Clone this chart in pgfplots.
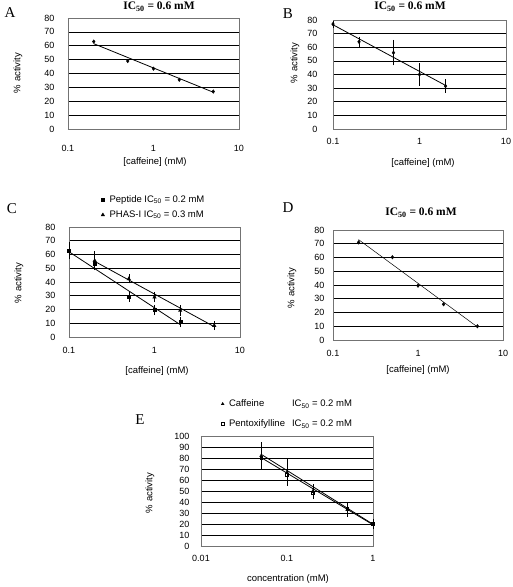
\documentclass[border=0pt]{standalone}
\usepackage{fontspec}
\setmainfont{Liberation Sans}
\newfontfamily\serif{Liberation Serif}
\usepackage{pgfplots}
\pgfplotsset{compat=1.18}
\pgfplotsset{
  /pgfplots/mypanel/.style={
    /pgfplots/scale only axis, /pgfplots/clip=false,
    /pgfplots/ymin=0, /pgfplots/ymax=80, /pgfplots/ytick={0,10,...,80},
    /pgfplots/ymajorgrids, /pgfplots/grid style={black, line width=0.6pt},
    /pgfplots/axis line style={black!55, line width=0.6pt},
    /pgfplots/major tick length=0pt, /pgfplots/minor tick length=0pt, /pgfplots/xminorticks=false,
    /pgf/number format/assume math mode=true,
    /pgfplots/tick label style={font=\fontsize{9}{10}\selectfont},
    /pgfplots/xmin=0.1, /pgfplots/xmax=10,
    /pgfplots/xtick={0.1,1,10}, /pgfplots/xticklabels={0.1,1,10},
  },
  /pgfplots/dot/.style={only marks, mark=diamond*, mark size=1.8pt, black,
    error bars/error bar style={black, line width=0.5pt},
    error bars/error mark options={black, mark size=2.5pt, line width=0.5pt}},
  /pgfplots/trend/.style={black, line width=0.8pt, no marks, forget plot},
  /pgfplots/limg/.style={legend image code/.code={\draw[mark repeat=2,mark phase=2,##1] plot coordinates {(0cm,0cm) (0.1cm,0cm) (0.2cm,0cm)};}},
}
\newcommand{\lab}{\fontsize{9.5}{11}\selectfont}
\newcommand{\ttl}{\serif\bfseries\fontsize{11.5}{13}\selectfont}
\begin{document}
\begin{tikzpicture}
\useasboundingbox (0pt,0pt) rectangle (513pt,-587pt);

% ---------------- A ----------------
\node[font=\serif\fontsize{15}{16}\selectfont] at (10pt,-13pt) {A};
\node[font=\ttl] at (159pt,-7pt) {IC\textsubscript{50} = 0.6 mM};
\node[font=\lab, rotate=90] at (18pt,-73pt) {\% activity};
\node[font=\lab] at (155pt,-162pt) {[caffeine] (mM)};
\begin{axis}[xmode=log, mypanel, at={(68pt,-129pt)}, anchor=south west, width=171pt, height=111pt,
  xticklabel style={yshift=-12.5pt}, yticklabel style={xshift=-10pt}]
  \addplot[dot] coordinates {(0.2,63) (0.5,49) (1,43.5) (2,35.5) (5,27)};
  \addplot[trend] coordinates {(0.2,61.5) (5,26.5)};
\end{axis}

% ---------------- B ----------------
\node[font=\serif\fontsize{15}{16}\selectfont] at (288pt,-14pt) {B};
\node[font=\ttl] at (410pt,-7pt) {IC\textsubscript{50} = 0.6 mM};
\node[font=\lab, rotate=90] at (295pt,-63pt) {\% activity};
\node[font=\lab] at (423pt,-163pt) {[caffeine] (mM)};
\begin{axis}[xmode=log, mypanel, at={(333pt,-129pt)}, anchor=south west, width=173pt, height=109pt,
  xticklabel style={yshift=-5.5pt}, yticklabel style={xshift=-12pt}]
  \addplot[dot, error bars/.cd, y dir=both, y explicit] coordinates {
    (0.1,77) +- (0,0.8) (0.2,64) +- (0,2) (0.5,56) +- (0,7.5) (1,40) +- (0,6.5) (2,31.5) +- (0,3)};
  \addplot[trend] coordinates {(0.1,76.5) (2,32)};
\end{axis}

% ---------------- C ----------------
\node[font=\serif\fontsize{15}{16}\selectfont] at (12pt,-209pt) {C};
\node[font=\lab, rotate=90] at (19pt,-283pt) {\% activity};
\node[font=\lab] at (157pt,-371pt) {[caffeine] (mM)};
\begin{axis}[xmode=log, mypanel, at={(69pt,-337pt)}, anchor=south west, width=171pt, height=110pt,
  xticklabel style={yshift=-6.5pt}, yticklabel style={xshift=-10pt},
  legend style={draw=none, fill=none, inner sep=0pt, outer sep=0pt,
    at={(0.188,1.287)}, anchor=north west, font=\lab, column sep=5pt, row sep=6pt,
    nodes={inner sep=0pt, text height=7pt, text depth=2pt}},
  legend cell align=left]
  \addplot[dot, mark=square*, mark size=1.5pt, limg, error bars/.cd, y dir=both, y explicit] coordinates {
    (0.1,63) +- (0,4.5) (0.2,53.5) +- (0,2) (0.5,29.6) +- (0,2) (1,19.8) +- (0,2) (2,11) +- (0,2)};
  \addlegendentry{Peptide IC\textsubscript{50} = 0.2 mM}
  \addplot[dot, mark=triangle*, mark size=2pt, limg, error bars/.cd, y dir=both, y explicit] coordinates {
    (0.2,55.5) +- (0,5) (0.5,42.3) +- (0,1.5) (1,29) +- (0,2) (2,19.3) +- (0,2) (5,8.3) +- (0,1.5)};
  \addlegendentry{PHAS-I IC\textsubscript{50} = 0.3 mM}
  \addplot[trend] coordinates {(0.1,62) (2,9)};
  \addplot[trend] coordinates {(0.2,55) (5,7.5)};
\end{axis}

% ---------------- D ----------------
\node[font=\serif\fontsize{15}{16}\selectfont] at (288pt,-208pt) {D};
\node[font=\ttl] at (421pt,-213pt) {IC\textsubscript{50} = 0.6 mM};
\node[font=\lab, rotate=90] at (292pt,-288pt) {\% activity};
\node[font=\lab] at (418pt,-370pt) {[caffeine] (mM)};
\begin{axis}[xmode=log, mypanel, at={(333pt,-340pt)}, anchor=south west, width=170pt, height=110pt,
  xticklabel style={yshift=-6.5pt}, yticklabel style={xshift=-5pt}]
  \addplot[dot] coordinates {(0.2,71) (0.5,60.2) (1,39.5) (2,26) (5,10)};
  \addplot[trend, line width=0.5pt] coordinates {(0.2,73) (5,9.5)};
\end{axis}

% ---------------- E ----------------
\node[font=\serif\fontsize{15}{16}\selectfont] at (140pt,-420pt) {E};
\node[font=\lab, rotate=90] at (150pt,-493pt) {\% activity};
\node[font=\lab] at (288pt,-579pt) {concentration (mM)};
\begin{axis}[xmode=log, mypanel, at={(201pt,-546pt)}, anchor=south west, width=172pt, height=110pt,
  ymax=100, ytick={0,10,...,100}, xmin=0.01, xmax=1,
  xtick={0.01,0.1,1}, xticklabels={0.01,0.1,1},
  xticklabel style={yshift=-5.5pt}, yticklabel style={xshift=-8pt},
  legend style={draw=none, fill=none, inner sep=0pt, outer sep=0pt,
    at={(0.118,1.332)}, anchor=north west, font=\lab, column sep=5pt, row sep=11pt,
    nodes={inner sep=0pt, text height=7pt, text depth=2pt}},
  legend cell align=left]
  \addplot[dot, mark=triangle*, mark size=1.6pt, limg, error bars/.cd, y dir=both, y explicit] coordinates {
    (0.05,82) +- (0,10) (0.1,67) +- (0,10) (0.2,50) +- (0,4) (0.5,33) +- (0,4) (1,20) +- (0,2)};
  \addlegendentry{\makebox[63pt][l]{Caffeine}IC\textsubscript{50} = 0.2 mM}
  \addplot[dot, mark=square, mark size=1.4pt, limg, error bars/.cd, y dir=both, y explicit] coordinates {
    (0.05,80) +- (0,8) (0.1,65) +- (0,8) (0.2,48) +- (0,3) (0.5,34) +- (0,3) (1,20) +- (0,1)};
  \addlegendentry{\makebox[63pt][l]{Pentoxifylline}IC\textsubscript{50} = 0.2 mM}
  \addplot[trend] coordinates {(0.05,83.4) (1,19.8)};
  \addplot[trend] coordinates {(0.05,80.4) (1,19.3)};
\end{axis}
\end{tikzpicture}
\end{document}
